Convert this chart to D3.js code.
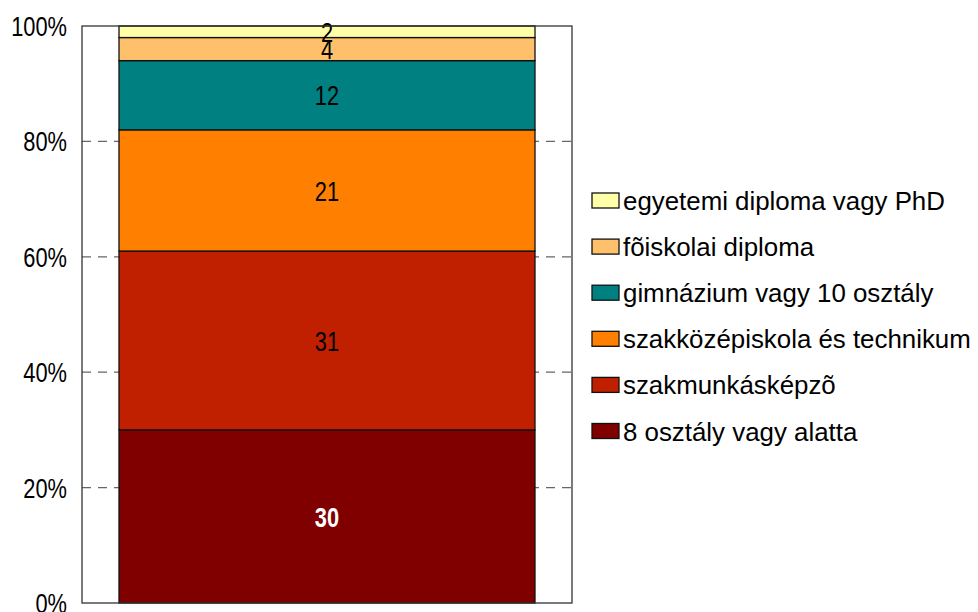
<!DOCTYPE html>
<html><head><meta charset="utf-8">
<script src="https://cdn.jsdelivr.net/npm/d3@7"></script>
<style>body{margin:0;background:#fff}svg{display:block}text{font-family:"Liberation Sans",Arial,sans-serif}</style>
</head><body><svg id="c" width="978" height="612"></svg>
<script>
const categories = ["all"];
const seriesNames = ["8 osztály vagy alatta","szakmunkásképzõ","szakközépiskola és technikum","gimnázium vagy 10 osztály","fõiskolai diploma","egyetemi diploma vagy PhD"];
const seriesValues = [30,31,21,12,4,2];
const seriesColors = ["#800000","#C02000","#FF8000","#008080","#FFC06C","#FFFFA8"];
const tickValues = [0,20,40,60,80,100];

const svg = d3.select("#c");
const L=82,R=572,T=26,B=603;
const y = d3.scaleLinear().domain([0,100]).range([B,T]);
const x = d3.scaleBand().domain(categories).range([119,535]).padding(0);

// gridlines
svg.append("g").selectAll("line").data(tickValues.filter(v=>v>0&&v<100)).join("line")
 .attr("x1",L).attr("x2",R).attr("y1",d=>y(d)).attr("y2",d=>y(d))
 .attr("stroke","#666").attr("stroke-width",1.3).attr("stroke-dasharray","9,7");

// stack
let cum=0;
const stacks = seriesValues.map((v,i)=>{const s={v,i,y0:cum,y1:cum+v};cum+=v;return s;});
svg.append("g").selectAll("rect").data(stacks).join("rect")
 .attr("x",x("all")).attr("width",x.bandwidth())
 .attr("y",d=>y(d.y1)).attr("height",d=>y(d.y0)-y(d.y1))
 .attr("fill",d=>seriesColors[d.i]).attr("stroke","#111").attr("stroke-width",1.3);

// labels
svg.append("g").selectAll("g").data(stacks).join("g")
 .attr("transform",d=>`translate(${x("all")+x.bandwidth()/2},${(y(d.y0)+y(d.y1))/2}) scale(0.78,1)`)
 .append("text")
 .attr("text-anchor","middle").attr("dy","0.36em")
 .attr("font-size",28)
 .attr("font-weight",d=>d.i===0?"bold":"normal")
 .attr("fill",d=>d.i===0?"#fff":"#000")
 .text(d=>d.v);

// frame
svg.append("rect").attr("x",L).attr("y",T).attr("width",R-L).attr("height",B-T)
 .attr("fill","none").attr("stroke","#333").attr("stroke-width",1.3);

// y axis labels
svg.append("g").selectAll("g").data(tickValues).join("g")
 .attr("transform",d=>`translate(67,${y(d)}) scale(0.78,1)`)
 .append("text").attr("text-anchor","end").attr("dy","0.36em")
 .attr("font-size",28).attr("fill","#000").text(d=>d+"%");

// legend
const order = [5,4,3,2,1,0];
const lg = svg.append("g").selectAll("g").data(order).join("g")
 .attr("transform",(d,k)=>`translate(592,${200.5+k*46.1})`);
lg.append("rect").attr("x",0).attr("y",-7.5).attr("width",27).attr("height",15)
 .attr("fill",d=>seriesColors[d]).attr("stroke","#111").attr("stroke-width",1.3);
const lt = lg.append("g").attr("transform","translate(31,0)")
 .append("text").attr("dy","0.36em")
 .attr("font-size",26.5).attr("fill","#000").text(d=>seriesNames[d]);
const maxW = d3.max(lt.nodes(), n=>n.getComputedTextLength());
const sx = 348/maxW;
lt.each(function(){ d3.select(this.parentNode).attr("transform",`translate(31,0) scale(${sx},1)`); });
</script></body></html>
